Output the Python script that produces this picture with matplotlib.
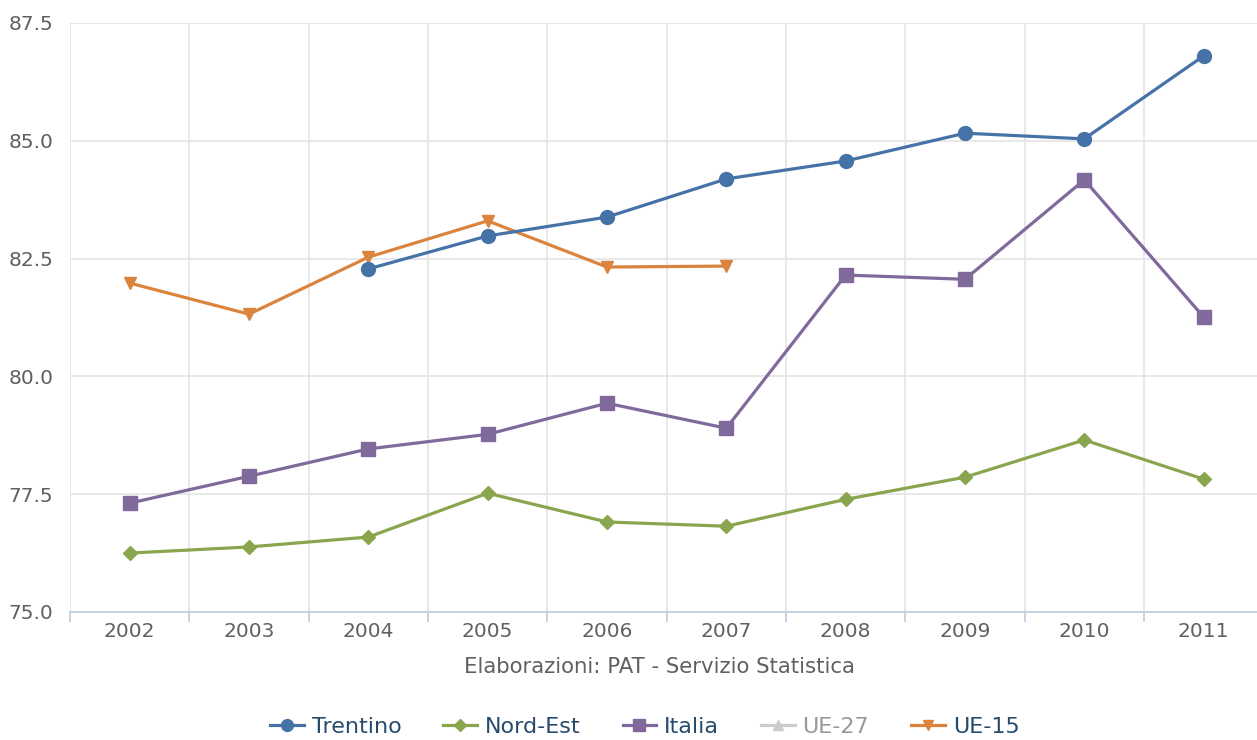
import numpy as np
import matplotlib
matplotlib.use("Agg")
from matplotlib import pyplot as plt

anni = ["2002", "2003", "2004", "2005", "2006", "2007", "2008", "2009", "2010", "2011"]
trentino = [np.nan, np.nan, 82.28, 82.98, 83.38, 84.19, 84.57, 85.16, 85.04, 86.80]
nord_est = [76.25, 76.38, 76.59, 77.52, 76.91, 76.82, 77.39, 77.86, 78.65, 77.82]
italia = [77.31, 77.88, 78.46, 78.77, 79.43, 78.90, 82.15, 82.06, 84.17, 81.26]
ue27 = [np.nan] * 10
ue15 = [81.98, 81.32, 82.53, 83.30, 82.32, 82.34, np.nan, np.nan, np.nan, np.nan]

plt.rcParams['font.family'] = ['DejaVu Sans']

fig = plt.figure(figsize=(12.57, 7.40), dpi=100)
ax = fig.add_axes([0.0557, 0.173, 0.9493, 0.796])

x = np.arange(len(anni))
ax.plot(x, trentino, color='#4572A7', lw=2.3, marker='o', ms=10, label='Trentino', zorder=5)
ax.plot(x, nord_est, color='#89A54E', lw=2.3, marker='D', ms=7, label='Nord-Est', zorder=4)
ax.plot(x, italia, color='#80699B', lw=2.3, marker='s', ms=9.5, label='Italia', zorder=4)
ax.plot(x, ue27, color='#CCCCCC', lw=2.3, marker='^', ms=9, label='UE-27')
ax.plot(x, ue15, color='#DB843D', lw=2.3, marker='v', ms=9, label='UE-15', zorder=4)

ax.set_xlim(-0.5, 9.5)
ax.set_ylim(75, 87.5)
ax.set_yticks(np.arange(75, 87.6, 2.5))
ax.set_yticklabels(["%.1f" % v for v in np.arange(75, 87.6, 2.5)])
ax.set_xticks(x)
ax.set_xticklabels(anni)
ax.set_xticks(np.arange(-0.5, 9.6, 1), minor=True)

ax.grid(True, which='major', axis='y', color='#E6E6E6', lw=1.3)
ax.grid(True, which='minor', axis='x', color='#E6E6E6', lw=1.3)
ax.set_axisbelow(True)

for s in ['top', 'right', 'left']:
    ax.spines[s].set_visible(False)
ax.spines['bottom'].set_color('#C0D0E0')
ax.spines['bottom'].set_linewidth(1.3)

ax.tick_params(axis='y', length=0, pad=12, labelsize=14.5, labelcolor='#606060')
ax.tick_params(axis='x', which='major', length=0, pad=7, labelsize=14.5, labelcolor='#606060')
ax.tick_params(axis='x', which='minor', length=7, color='#C0D0E0', width=1.3)

fig.text(0.525, 0.098, "Elaborazioni: PAT - Servizio Statistica", ha='center', va='center',
         fontsize=15.3, color='#606060')

leg = fig.legend(loc='center', bbox_to_anchor=(0.513, 0.018), ncol=5, frameon=False,
                 fontsize=16, handlelength=1.5, columnspacing=1.9, handletextpad=0.36,
                 markerscale=0.85)
for t in leg.get_texts():
    t.set_color('#274B6D')
leg.get_texts()[3].set_color('#999999')

fig.savefig("out.png", dpi=100)
